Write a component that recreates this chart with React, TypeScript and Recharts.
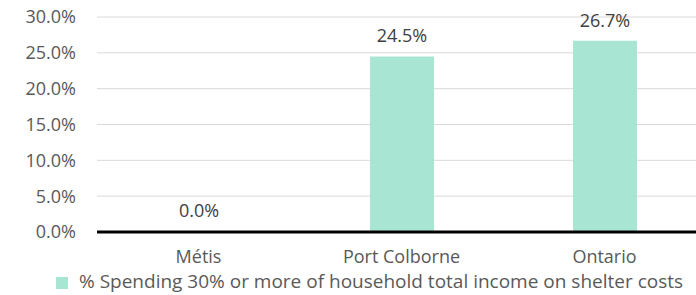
import { BarChart, Bar, XAxis, YAxis, CartesianGrid, Legend, LabelList } from "recharts";

const categories = ["Métis", "Port Colborne", "Ontario"];
const shelterCostShare = [0, 24.5, 26.7];
const yTicks = [0, 5, 10, 15, 20, 25, 30];
const seriesName = "% Spending 30% or more of household total income on shelter costs";

const data = categories.map((name, i) => ({ name, value: shelterCostShare[i] }));

const FONT = "'Open Sans', sans-serif";
const AXIS_TEXT = "#595959";

export default function App() {
  return (
    <div
      style={{
        position: "fixed",
        left: 0,
        top: 0,
        width: 696,
        height: 295,
        overflow: "hidden",
        background: "#fff",
        fontFamily: FONT,
      }}
    >
      <BarChart width={706} height={295} data={data} margin={{ top: 17, right: 0, bottom: 0, left: 0 }}>
        <CartesianGrid vertical={false} stroke="#d9d9d9" strokeWidth={1} />
        <XAxis
          dataKey="name"
          axisLine={{ stroke: "#000", strokeWidth: 3 }}
          tickLine={false}
          tickSize={0}
          tickMargin={18}
          height={41}
          tick={{ fill: AXIS_TEXT, fontSize: 18, fontFamily: FONT }}
          interval={0}
        />
        <YAxis
          domain={[0, 30]}
          ticks={yTicks}
          axisLine={false}
          tickLine={false}
          tickSize={21}
          tickMargin={0}
          width={97}
          tick={{ fill: AXIS_TEXT, fontSize: 18, fontFamily: FONT }}
          tickFormatter={(v) => `${Number(v).toFixed(1)}%`}
        />
        <Legend
          verticalAlign="bottom"
          iconType="square"
          iconSize={12}
          wrapperStyle={{ left: 56, bottom: 3, width: "auto", fontFamily: FONT, fontSize: 19, lineHeight: "22px" }}
          formatter={(v) => <span style={{ color: AXIS_TEXT, marginLeft: 7 }}>{v}</span>}
        />
        <Bar dataKey="value" name={seriesName} fill="#a9e5d3" barSize={64} minPointSize={1} isAnimationActive={false}>
          <LabelList
            dataKey="value"
            position="top"
            offset={14}
            fill="#404040"
            fontSize={18}
            fontFamily={FONT}
            formatter={(v: any) => `${Number(v).toFixed(1)}%`}
          />
        </Bar>
      </BarChart>
    </div>
  );
}
